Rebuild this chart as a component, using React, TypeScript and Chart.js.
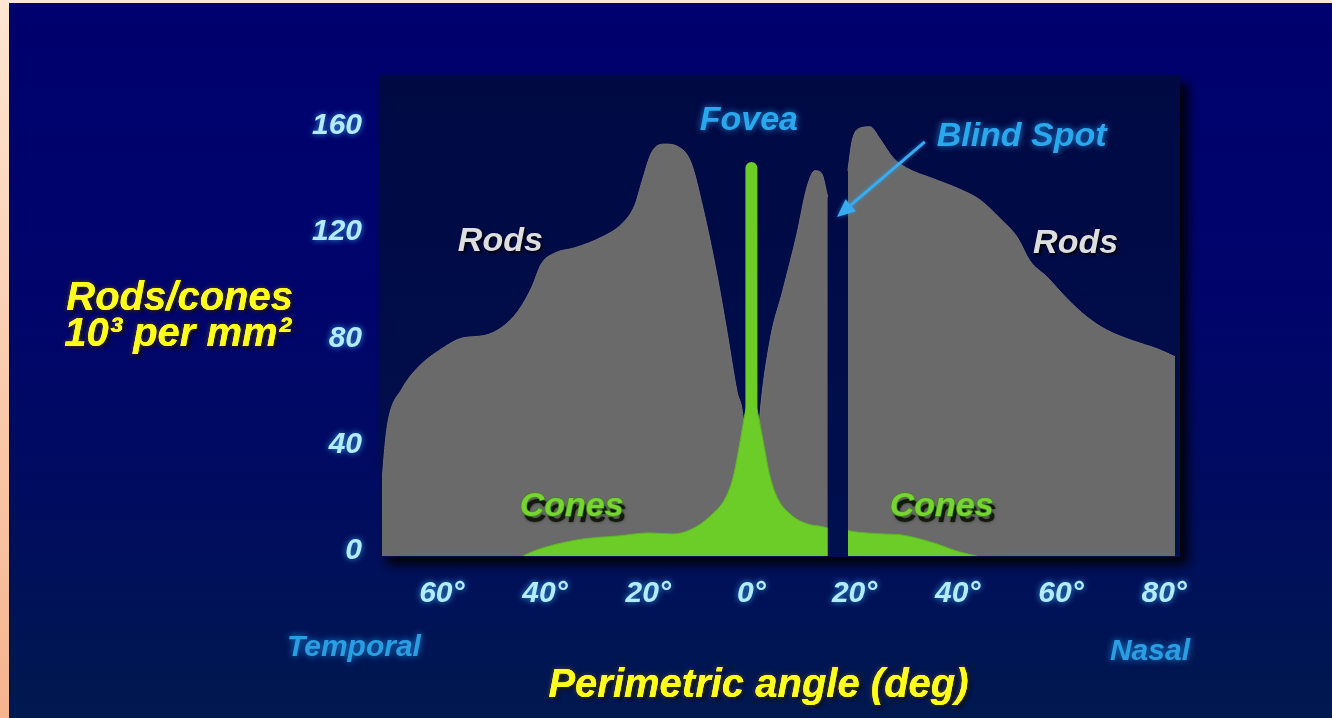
import React, { useEffect, useRef } from "react";
import { Chart, registerables } from "chart.js";

Chart.register(...registerables);

// ---------- data ----------
const xTickValues = [-60, -40, -20, 0, 20, 40, 60, 80];
const yTickValues = [0, 40, 80, 120, 160];
const xMin = -71.6;
const xMax = 82.1;
const yMin = 0;
const yMax = 181;

const rodAngles = [
  -71.6, -71.0, -70.4, -67.7, -64.6, -60.0, -56.1, -51.7, -48.4, -45.3, -42.6, -40.7, -38.1, -34.2, -29.0,
  -25.1, -22.6, -21.2, -19.3, -16.8, -14.2, -11.7, -9.4, -6.7, -4.7, -2.8, -1.6, -0.5, 0, 0.5, 1.6, 3.6, 6.1,
  8.8, 10.8, 12.3, 13.6, 14.8, 16.7, 18.7, 19.5, 21.0, 23.0, 24.9, 27.4, 30.1, 35.2, 40.4, 44.3, 48.2, 51.5,
  54.0, 57.3, 61.1, 65.0, 68.9, 73.9, 78.6, 82.1,
];
const rodDensity = [
  28, 42, 51, 63, 71, 78, 82, 83, 86, 92, 101, 110, 114, 116, 120,
  125, 132, 141, 152, 155, 154, 148, 131, 106, 84, 62, 52, 20, 0, 20, 52, 81, 100,
  121, 139, 145, 144, 135, null, 145, 156, 161, 161.5, 157, 150, 146, 142, 138, 134, 127, 120,
  111, 105, 97, 90, 85, 81, 78, 75,
];

const coneAngles = [
  -44.3, -42.0, -39.1, -32.7, -26.1, -19.7, -15.2, -11.7, -8.0, -5.0, -3.5, -2.2, -1.2, 0, 1.2, 2.3, 3.6,
  5.0, 8.0, 11.0, 13.9, 14.8, 16.7, 18.7, 19.1, 25.5, 28.8, 35.2, 40.4, 43.7,
];
const coneDensity = [
  0, 2.0, 3.8, 6.4, 7.5, 8.7, 8.3, 10, 15, 22, 30, 43, 54, 62, 54, 43, 30,
  22, 15, 12, 11, 10.5, null, 9.6, 9.4, 8.3, 8.0, 5, 1.5, 0,
];

const foveaAngles = [0, 0];
const foveaDensity = [0, 146];

// annotation anchors (data coordinates)
const plotLabels = [
  { text: "Fovea", x: -0.5, y: 160.3, align: "center", kind: "cyan" },
  { text: "Blind Spot", x: 35.9, y: 154.3, align: "left", kind: "cyan" },
  { text: "Rods", x: -56.9, y: 114.8, align: "left", kind: "rods" },
  { text: "Rods", x: 54.6, y: 114, align: "left", kind: "rods" },
  { text: "Cones", x: -44.9, y: 15, align: "left", kind: "cones" },
  { text: "Cones", x: 26.8, y: 15, align: "left", kind: "cones" },
];
const arrowFrom = [33.6, 155.8];
const arrowTo = [16.6, 127.6];

const yTitleLines = ["Rods/cones", "10³ per mm²"];
const xTitle = "Perimetric angle (deg)";
const leftSideLabel = "Temporal";
const rightSideLabel = "Nasal";

// ---------- styles ----------
const W = 1332;
const H = 718;
const FONT = '"Liberation Sans", Arial, Helvetica, sans-serif';
const TICK_COLOR = "#b4ecff";
const ROD_GRAY = "#6a6a6a";
const CONE_GREEN = "#6ccc28";
const CYAN = "#2aa8ee";
const YELLOW = "#ffff1e";

function toPts(xs: number[], ys: (number | null)[]) {
  return xs.map((x, i) => ({ x, y: ys[i] }));
}

function drawText(
  ctx: CanvasRenderingContext2D,
  s: string,
  x: number,
  y: number,
  size: number,
  color: string,
  align: CanvasTextAlign,
  kind: string
) {
  ctx.save();
  ctx.font = `italic bold ${size}px ${FONT}`;
  ctx.textAlign = align;
  ctx.textBaseline = "alphabetic";
  if (kind === "cones") {
    ctx.fillStyle = "#121a0a";
    ctx.shadowColor = "rgba(0,0,0,0.6)";
    ctx.shadowBlur = 3;
    ctx.fillText(s, x + 3, y + 6);
    ctx.shadowBlur = 0;
    ctx.shadowColor = "rgba(0,0,0,0)";
    ctx.lineWidth = 1.5;
    ctx.strokeStyle = "#3f8a18";
    ctx.strokeText(s, x, y);
    ctx.fillStyle = color;
    ctx.fillText(s, x, y);
  } else if (kind === "rods") {
    ctx.shadowColor = "rgba(0,0,0,0.85)";
    ctx.shadowBlur = 3;
    ctx.shadowOffsetX = 2;
    ctx.shadowOffsetY = 2;
    ctx.fillStyle = color;
    ctx.fillText(s, x, y);
  } else if (kind === "cyan") {
    ctx.shadowColor = "rgba(40,170,255,0.75)";
    ctx.shadowBlur = 7;
    ctx.fillStyle = color;
    ctx.fillText(s, x, y);
  } else if (kind === "yellow") {
    ctx.shadowColor = "rgba(0,0,0,0.9)";
    ctx.shadowBlur = 4;
    ctx.shadowOffsetX = 2;
    ctx.shadowOffsetY = 2;
    ctx.fillStyle = color;
    ctx.fillText(s, x, y);
    ctx.shadowColor = "rgba(255,200,0,0.35)";
    ctx.shadowBlur = 5;
    ctx.shadowOffsetX = 0;
    ctx.shadowOffsetY = 0;
    ctx.fillText(s, x, y);
  } else {
    ctx.fillStyle = color;
    ctx.fillText(s, x, y);
  }
  ctx.restore();
}

const decor = {
  id: "decor",
  beforeDraw(chart: any) {
    const { ctx, chartArea: a } = chart;
    ctx.save();
    const pg = ctx.createLinearGradient(0, 0, 0, H);
    pg.addColorStop(0, "#fde6d2");
    pg.addColorStop(1, "#f5b48e");
    ctx.fillStyle = pg;
    ctx.fillRect(0, 0, W, H);
    const bg = ctx.createLinearGradient(0, 3, 0, H);
    bg.addColorStop(0, "#00006e");
    bg.addColorStop(0.45, "#00056a");
    bg.addColorStop(0.75, "#000e5c");
    bg.addColorStop(1, "#00194e");
    ctx.fillStyle = bg;
    ctx.fillRect(9, 3, W - 9, H - 3);
    ctx.shadowColor = "rgba(0,0,0,0.9)";
    ctx.shadowBlur = 10;
    ctx.shadowOffsetX = 8;
    ctx.shadowOffsetY = 8;
    const pgr = ctx.createLinearGradient(0, a.top, 0, a.bottom);
    pgr.addColorStop(0, "#000942");
    pgr.addColorStop(1, "#00104e");
    ctx.fillStyle = pgr;
    ctx.fillRect(a.left - 3, a.top, a.right - a.left + 8, a.bottom - a.top + 1);
    ctx.restore();
    // glow for the axis tick labels
    ctx.shadowColor = "rgba(70,190,255,0.8)";
    ctx.shadowBlur = 6;
    ctx.shadowOffsetX = 0;
    ctx.shadowOffsetY = 0;
  },
  beforeDatasetsDraw(chart: any) {
    const ctx = chart.ctx;
    ctx.shadowColor = "rgba(0,0,0,0)";
    ctx.shadowBlur = 0;
  },
  afterDatasetsDraw(chart: any) {
    const { ctx, chartArea: a } = chart;
    const xs = chart.scales.x;
    const ys = chart.scales.y;
    for (const l of plotLabels) {
      const px = xs.getPixelForValue(l.x);
      const py = ys.getPixelForValue(l.y);
      if (l.kind === "cyan") drawText(ctx, l.text, px, py, 34, CYAN, l.align as CanvasTextAlign, "cyan");
      else if (l.kind === "rods") drawText(ctx, l.text, px, py, 34, "#dedede", "left", "rods");
      else drawText(ctx, l.text, px, py, 34, "#78d434", "left", "cones");
    }
    // blind spot arrow
    const x1 = xs.getPixelForValue(arrowFrom[0]);
    const y1 = ys.getPixelForValue(arrowFrom[1]);
    const x2 = xs.getPixelForValue(arrowTo[0]);
    const y2 = ys.getPixelForValue(arrowTo[1]);
    const ang = Math.atan2(y2 - y1, x2 - x1);
    const headLen = 18;
    const headW = 8;
    const bx = x2 - Math.cos(ang) * headLen;
    const by = y2 - Math.sin(ang) * headLen;
    ctx.save();
    ctx.shadowColor = "rgba(40,170,255,0.6)";
    ctx.shadowBlur = 4;
    ctx.strokeStyle = "#38acf0";
    ctx.fillStyle = "#38acf0";
    ctx.lineWidth = 3;
    ctx.beginPath();
    ctx.moveTo(x1, y1);
    ctx.lineTo(bx, by);
    ctx.stroke();
    ctx.beginPath();
    ctx.moveTo(x2, y2);
    ctx.lineTo(bx + Math.sin(ang) * headW, by - Math.cos(ang) * headW);
    ctx.lineTo(bx - Math.sin(ang) * headW, by + Math.cos(ang) * headW);
    ctx.closePath();
    ctx.fill();
    ctx.restore();

    // axis titles and side labels
    drawText(ctx, yTitleLines[0], a.left - 89, a.top + 235, 40, YELLOW, "right", "yellow");
    drawText(ctx, yTitleLines[1], a.left - 91, a.top + 271, 40, YELLOW, "right", "yellow");
    drawText(ctx, leftSideLabel, a.left - 95, a.bottom + 100, 30, "#2a9ee2", "left", "cyan");
    drawText(ctx, rightSideLabel, a.right + 15, a.bottom + 104, 30, "#2a9ee2", "right", "cyan");
    drawText(ctx, xTitle, (a.left + a.right) / 2 - 20, a.bottom + 141, 40, YELLOW, "center", "yellow");
  },
};

const tickFont = { family: FONT, size: 30, weight: "bold" as const, style: "italic" as const };

export default function App() {
  const ref = useRef<HTMLCanvasElement>(null);
  useEffect(() => {
    const canvas = ref.current!;
    const chart = new Chart(canvas, {
      type: "line",
      data: {
        datasets: [
          {
            label: "Rods",
            data: toPts(rodAngles, rodDensity) as any,
            fill: "origin",
            backgroundColor: ROD_GRAY,
            borderColor: "#727278",
            borderWidth: 1,
            pointRadius: 0,
            cubicInterpolationMode: "monotone",
            spanGaps: false,
            order: 2,
          },
          {
            label: "Cones",
            data: toPts(coneAngles, coneDensity) as any,
            fill: "origin",
            backgroundColor: CONE_GREEN,
            borderColor: "#5fb824",
            borderWidth: 1,
            pointRadius: 0,
            cubicInterpolationMode: "monotone",
            spanGaps: false,
            order: 1,
          },
          {
            label: "Fovea",
            data: toPts(foveaAngles, foveaDensity) as any,
            fill: false,
            borderColor: CONE_GREEN,
            borderWidth: 12,
            borderCapStyle: "round",
            pointRadius: 0,
            tension: 0,
            order: 0,
          },
        ],
      },
      options: {
        responsive: false,
        animation: false,
        devicePixelRatio: 1,
        layout: { padding: { left: 0, top: 75, right: 157, bottom: 0 } },
        plugins: {
          legend: { display: false },
          tooltip: { enabled: false },
          title: { display: false },
        },
        elements: { point: { radius: 0 } },
        scales: {
          x: {
            type: "linear",
            min: xMin,
            max: xMax,
            grid: { display: false, drawTicks: false },
            border: { display: false },
            afterBuildTicks: (s: any) => {
              s.ticks = xTickValues.map((v) => ({ value: v }));
            },
            afterFit: (s: any) => {
              s.height = 162;
            },
            ticks: {
              color: TICK_COLOR,
              font: tickFont,
              padding: 20,
              autoSkip: false,
              maxRotation: 0,
              callback: (v: any) => Math.abs(Number(v)) + "°",
            },
          },
          y: {
            type: "linear",
            min: yMin,
            max: yMax,
            grid: { display: false, drawTicks: false },
            border: { display: false },
            afterBuildTicks: (s: any) => {
              s.ticks = yTickValues.map((v) => ({ value: v }));
            },
            afterFit: (s: any) => {
              s.width = 382;
            },
            ticks: {
              color: TICK_COLOR,
              font: tickFont,
              padding: 20,
              labelOffset: -5,
              autoSkip: false,
              callback: (v: any) => String(v),
            },
          },
        },
      },
      plugins: [decor],
    } as any);
    return () => chart.destroy();
  }, []);
  return (
    <div style={{ position: "fixed", left: 0, top: 0, width: W, height: H, overflow: "hidden" }}>
      <canvas ref={ref} width={W} height={H} style={{ display: "block", width: W, height: H }} />
    </div>
  );
}
